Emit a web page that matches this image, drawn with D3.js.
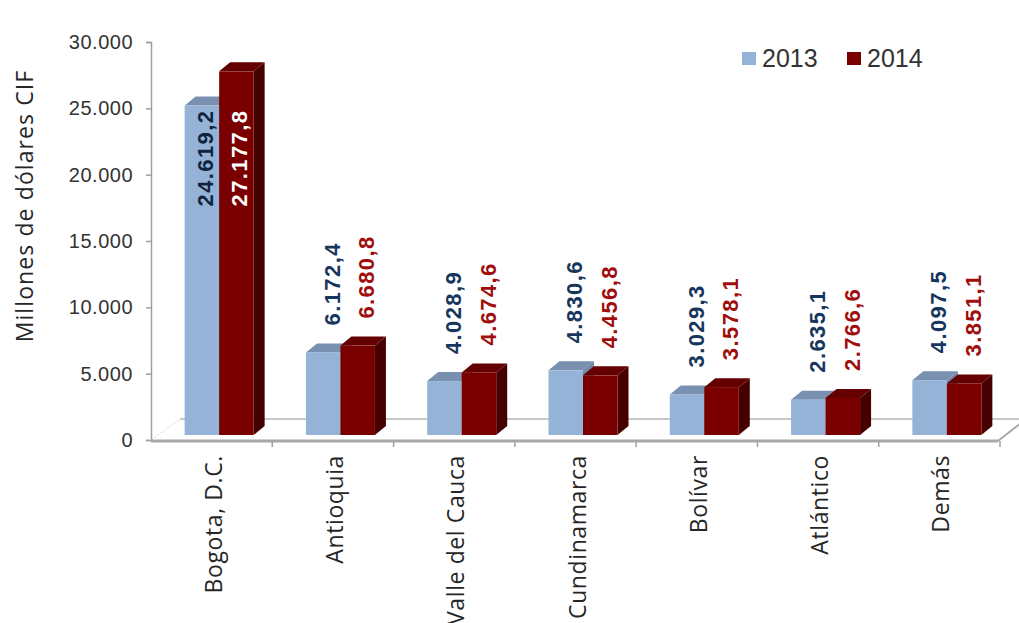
<!DOCTYPE html>
<html>
<head>
<meta charset="utf-8">
<script src="https://cdn.jsdelivr.net/npm/d3@7"></script>
<style>
  body { margin: 0; background: #fff; }
  svg { display: block; }
</style>
</head>
<body>
<svg width="1019" height="623"></svg>
<script>
const categories = ["Bogota, D.C.", "Antioquia", "Valle del Cauca", "Cundinamarca", "Bolívar", "Atlántico", "Demás"]
const years = ["2013", "2014"]
const values2013 = [24619.2, 6172.4, 4028.9, 4830.6, 3029.3, 2635.1, 4097.5]
const values2014 = [27177.8, 6680.8, 4674.6, 4456.8, 3578.1, 2766.6, 3851.1]
const yTicks = [0, 5000, 10000, 15000, 20000, 25000, 30000]

const front = {"2013": "#95b3d7", "2014": "#7a0000"}
const topc = {"2013": "#7990b0", "2014": "#650000"}
const sidec = {"2013": "#6f86a6", "2014": "#470000"}
const labelColor = {"2013": "#17365d", "2014": "#a00d0d"}
const insideColor = {"2013": "#10243e", "2014": "#ffffff"}

const locale = d3.formatLocale({decimal: ",", thousands: ".", grouping: [3], currency: ["$", ""]})
const fmtVal = locale.format(",.1f")
const fmtTick = locale.format(",")

const svg = d3.select("svg")

// axis scale (back wall) and bar scale (front plane)
const y = d3.scaleLinear().domain([0, 30000]).range([440, 42])
const yBar = d3.scaleLinear().domain([0, 30000]).range([435, 33.6])
const x = d3.scaleBand().domain(categories).range([151, 1000])
const sub = d3.scaleBand().domain(years).range([0, 69])
const dx = 11, dy = -9

const rows = categories.map((c, i) => ({cat: c, "2013": values2013[i], "2014": values2014[i]}))

// floor
const floor = svg.append("g")
floor.append("line").attr("x1", 180).attr("y1", 419).attr("x2", 1019).attr("y2", 419)
  .attr("stroke", "#c8c8c8").attr("stroke-width", 2)
floor.append("line").attr("x1", 151).attr("y1", 440).attr("x2", 180).attr("y2", 419)
  .attr("stroke", "#d0d0d0").attr("stroke-width", 1).attr("stroke-dasharray", "2,2")
floor.append("line").attr("x1", 998).attr("y1", 441).attr("x2", 1021).attr("y2", 423)
  .attr("stroke", "#a8a8a8").attr("stroke-width", 2)

// y axis
const yAxis = svg.append("g").attr("transform", "translate(151,0)")
  .call(d3.axisLeft(y).tickValues(yTicks).tickFormat(fmtTick).tickSize(5).tickPadding(13))
yAxis.select(".domain").attr("stroke", "#a0a0a0").attr("stroke-width", 1.5)
yAxis.selectAll(".tick line").attr("stroke", "#a0a0a0").attr("stroke-width", 1.5)
yAxis.selectAll(".tick text").attr("font-family", "Liberation Sans, Arial, sans-serif")
  .attr("font-size", 20).attr("fill", "#333").attr("letter-spacing", 0.5)

// x axis
const xAxis = svg.append("g").attr("transform", "translate(0,441)")
xAxis.append("line").attr("x1", 151).attr("x2", 998).attr("y1", 0).attr("y2", 0)
  .attr("stroke", "#a8a8a8").attr("stroke-width", 3)
xAxis.selectAll(".xt").data(categories).enter().append("line")
  .attr("x1", d => x(d) + x.bandwidth()).attr("x2", d => x(d) + x.bandwidth())
  .attr("y1", 0).attr("y2", 6).attr("stroke", "#a0a0a0").attr("stroke-width", 1.5)
xAxis.selectAll(".xl").data(categories).enter().append("text")
  .attr("transform", d => `translate(${x(d) + x.bandwidth() / 2 + 2},14) rotate(-90)`)
  .attr("dy", "0.35em")
  .attr("text-anchor", "end")
  .attr("font-family", "Open Sans, sans-serif")
  .attr("font-size", 23).attr("fill", "#262626")
  .attr("letter-spacing", 0.6)
  .text(d => d)

// y title
svg.append("text")
  .attr("transform", "translate(25,206) rotate(-90)")
  .attr("dy", "0.35em")
  .attr("text-anchor", "middle")
  .attr("font-family", "Open Sans, sans-serif")
  .attr("font-size", 23).attr("fill", "#262626")
  .attr("letter-spacing", 1.1)
  .text("Millones de dólares CIF")

// 3D bars
function barX(d, yr) { return x(d.cat) + x.bandwidth() / 2 + 7.5 - 34.5 + sub(yr) }
const bars = svg.append("g")
rows.forEach(d => {
  years.forEach(yr => {
    const x0 = barX(d, yr), x1 = x0 + sub.bandwidth()
    const yt = yBar(d[yr]), yb = yBar(0)
    const g = bars.append("g")
    g.append("polygon")
      .attr("points", [[x1, yb], [x1 + dx, yb + dy], [x1 + dx, yt + dy], [x1, yt]].join(" "))
      .attr("fill", sidec[yr])
    g.append("polygon")
      .attr("points", [[x0, yt], [x0 + dx, yt + dy], [x1 + dx, yt + dy], [x1, yt]].join(" "))
      .attr("fill", topc[yr])
    g.append("rect")
      .attr("x", x0).attr("y", yt).attr("width", x1 - x0).attr("height", yb - yt)
      .attr("fill", front[yr])
  })
})

// data labels
const labels = svg.append("g")
rows.forEach(d => {
  years.forEach(yr => {
    const v = d[yr]
    const inside = v > 20000
    const cx = barX(d, yr) + sub.bandwidth() / 2 + (inside ? 3 : 9)
    const ty = inside ? yBar(20700) : yBar(v) - 27
    labels.append("text")
      .attr("transform", `translate(${cx},${ty}) rotate(-90)`)
      .attr("dy", "0.35em")
      .attr("text-anchor", inside ? "middle" : "start")
      .attr("font-family", "Liberation Sans, Arial, sans-serif")
      .attr("font-weight", "bold").attr("font-size", 22)
      .attr("letter-spacing", 1.4)
      .attr("fill", inside ? insideColor[yr] : labelColor[yr])
      .text(fmtVal(v))
  })
})

// legend
const legend = svg.append("g").attr("transform", "translate(742,52)")
years.forEach((yr, i) => {
  const lg = legend.append("g").attr("transform", `translate(${i * 105},0)`)
  lg.append("rect").attr("width", 14).attr("height", 13).attr("fill", front[yr])
  lg.append("text").attr("x", 20).attr("y", 15)
    .attr("font-family", "Liberation Sans, Arial, sans-serif")
    .attr("font-size", 25).attr("fill", "#333")
    .text(yr)
})
</script>
</body>
</html>
